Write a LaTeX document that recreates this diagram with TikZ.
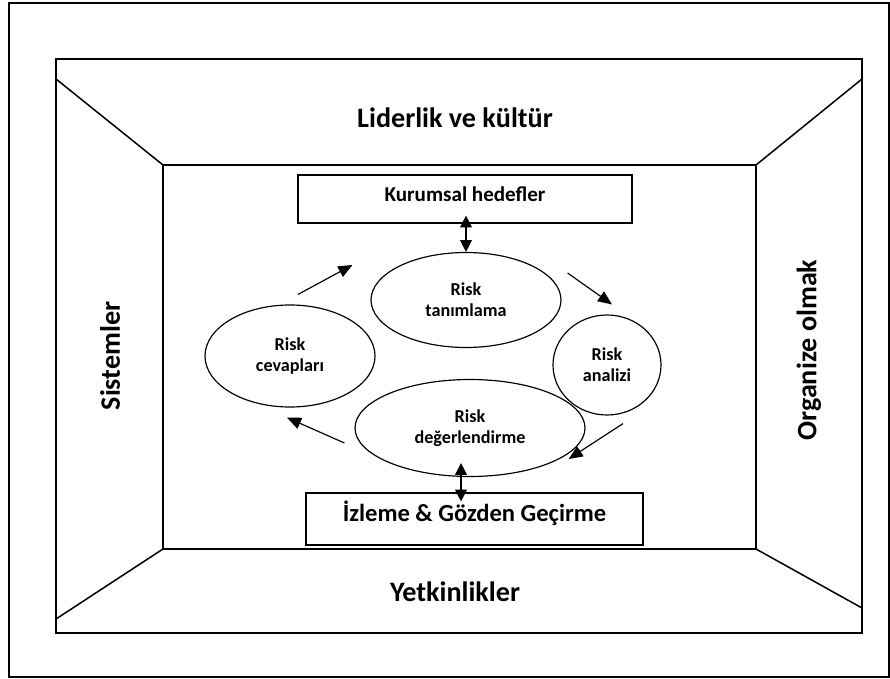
\documentclass[tikz,border=0pt]{standalone}
\usepackage{fontspec}
\setmainfont{Carlito}
\usetikzlibrary{shapes.geometric,arrows.meta}
\tikzstyle{every node}=[font=\bfseries]
\tikzstyle{wall}=[line width=1.3pt]
\tikzstyle{walllabel}=[font=\bfseries\fontsize{24}{28}\selectfont]
\tikzstyle{riskoval}=[draw=black,ellipse,line width=1pt,inner sep=0pt,align=center,font=\bfseries\fontsize{15.5}{18}\selectfont]
\tikzstyle{goalbox}=[draw=black,rectangle,line width=1pt,inner sep=0pt]
\tikzstyle{cycarrow}=[line width=1pt,-{Triangle[length=12pt,width=10pt]}]
\tikzstyle{dblarrow}=[line width=1pt,{Triangle[length=10pt,width=10pt]}-{Triangle[length=10pt,width=10pt]}]

\begin{document}
\begin{tikzpicture}[x=0.03cm,y=-0.03cm]
  \useasboundingbox (0,0) rectangle (890,679);

  \draw[wall] (9,3) rectangle (889,677);
  \coordinate (onw) at (56,59);
  \coordinate (ose) at (862,633);
  \coordinate (inw) at (163,165);
  \coordinate (ine) at (756,165);
  \coordinate (isw) at (163,549);
  \coordinate (ise) at (756,549);
  \draw[wall] (onw) rectangle (ose);
  \draw[wall] (inw) rectangle (ise);
  \draw[wall] (56,79) -- (inw);
  \draw[wall] (862,79) -- (ine);
  \draw[wall] (56,619) -- (isw);
  \draw[wall] (862,608) -- (ise);

  \node[walllabel] (lid) at (455,118) {Liderlik ve kültür};
  \node[walllabel] (yet) at (455,592) {Yetkinlikler};
  \node[walllabel,rotate=90] (sis) at (110,356) {Sistemler};
  \node[walllabel,rotate=90] (org) at (809,350) {Organize olmak};

  \node[goalbox,minimum width=10.02cm,minimum height=1.44cm,
    font=\bfseries\fontsize{18}{20}\selectfont,text depth=8pt] (kur) at (465,199) {Kurumsal hedefler};
  \node[goalbox,minimum width=10.11cm,minimum height=1.56cm,
    font=\bfseries\fontsize{21}{23}\selectfont,text height=14pt,text depth=10pt] (izl) at (474.5,519) {İzleme \& Gözden Geçirme};

  \node[riskoval,minimum width=5.7cm,minimum height=2.85cm] (tan) at (466,300) {Risk\\tanımlama};
  \node[riskoval,minimum width=5.1cm,minimum height=3.06cm] (cev) at (290,356) {Risk\\cevapları};
  \node[riskoval,minimum width=3.24cm,minimum height=3cm] (ana) at (607,365) {Risk\\analizi};
  \node[riskoval,minimum width=6.9cm,minimum height=2.91cm] (deg) at (470,428) {Risk\\değerlendirme};

  \draw[cycarrow] ([shift={(8,-10)}]cev.north) -- ([shift={(-18,-35)}]tan.west);
  \draw[cycarrow] ([shift={(6,-27)}]tan.east) -- ([shift={(5,-10)}]ana.north);
  \draw[cycarrow] ([shift={(16,8)}]ana.south) -- ([shift={(-17,31)}]deg.east);
  \draw[cycarrow] ([shift={(-10,15)}]deg.west) -- ([shift={(-3,10)}]cev.south);

  \draw[dblarrow] ([shift={(1,-8)}]kur.south) -- (tan.north);
  \draw[dblarrow] ([shift={(-9,-14)}]deg.south) -- ([shift={(-13.5,9)}]izl.north);
\end{tikzpicture}
\end{document}
